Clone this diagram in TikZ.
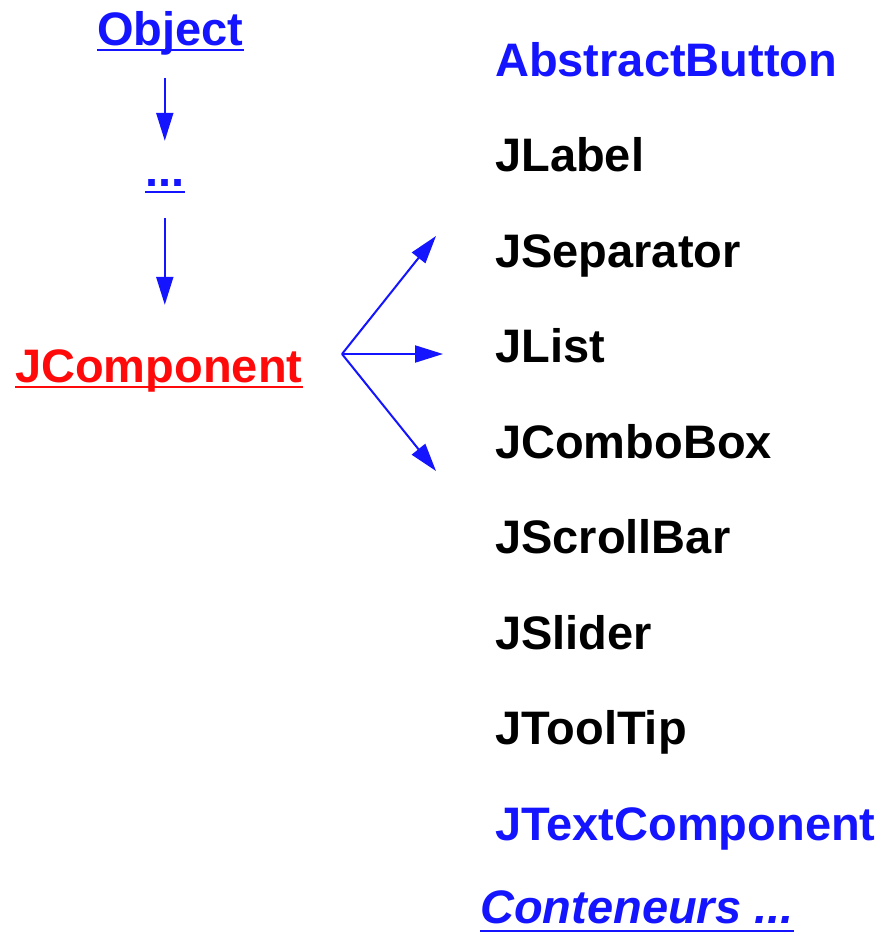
\documentclass[tikz,border=0pt]{standalone}
\usepackage{fontspec}
\setmainfont{Liberation Sans}
\usetikzlibrary{arrows.meta}
\definecolor{jblue}{RGB}{20,20,255}
\definecolor{jred}{RGB}{255,10,10}
\begin{document}
\begin{tikzpicture}[x=1pt,y=-1pt,
  lbl/.style={inner sep=0pt, anchor=base west, text height=34pt, text depth=10pt,
              font=\fontsize{47}{50}\selectfont\bfseries},
  arr/.style={draw=jblue, line width=2pt, -{Triangle[length=28pt,width=17pt]}},
  ul/.style={line width=2.6pt}]
\useasboundingbox (0,0) rectangle (883,935);

% inheritance chain on the left
\node[lbl, text=jblue] (obj)   at (97,45)  {Object};
\node[lbl, text=jblue] (dots)  at (145,186) {...};
\node[lbl, text=jred]  (jcomp) at (15,382) {JComponent};

\draw[ul, jblue] ([yshift=-5pt]obj.base west)  -- ([yshift=-5pt]obj.base east);
\draw[ul, jblue] ([yshift=-6pt]dots.base west) -- ([yshift=-6pt]dots.base east);
\draw[ul, jred]  ([yshift=-5pt]jcomp.base west) -- ([yshift=-5pt]jcomp.base east);

\draw[arr, shorten <=23pt, shorten >=11pt] (obj.south -| dots.south) -- (dots.north);
\draw[arr, shorten <=22pt, shorten >=43pt] (dots.south) -- (jcomp.north -| dots.south);

% subclasses on the right
\node[lbl, text=jblue] (absb)  at (495,76)    {AbstractButton};
\node[lbl]             (jlab)  at (495,171.5) {JLabel};
\node[lbl]             (jsep)  at (495,267)   {JSeparator};
\node[lbl]             (jlist) at (495,362.5) {JList};
\node[lbl]             (jcombo) at (495,458)  {JComboBox};
\node[lbl]             (jscroll) at (495,553.5) {JScrollBar};
\node[lbl]             (jslide) at (495,649)  {JSlider};
\node[lbl]             (jtip)  at (495,744.5) {JToolTip};
\node[lbl, text=jblue] (jtext) at (495,840)   {JTextComponent};
\node[lbl, text=jblue, font=\fontsize{47}{50}\selectfont\bfseries\itshape]
                       (cont)  at (480,923)   {Conteneurs ...};
\draw[ul, jblue] ([yshift=-8pt]cont.base west) -- ([yshift=-8pt]cont.base east);

% fan of arrows from JComponent
\coordinate (fan) at (342,354);
\coordinate (tipA) at (436,236);
\coordinate (tipB) at (443,354);
\coordinate (tipC) at (436,471);
\draw[arr] (fan) -- (tipA);
\draw[arr] (fan) -- (tipB);
\draw[arr] (fan) -- (tipC);
\end{tikzpicture}
\end{document}
